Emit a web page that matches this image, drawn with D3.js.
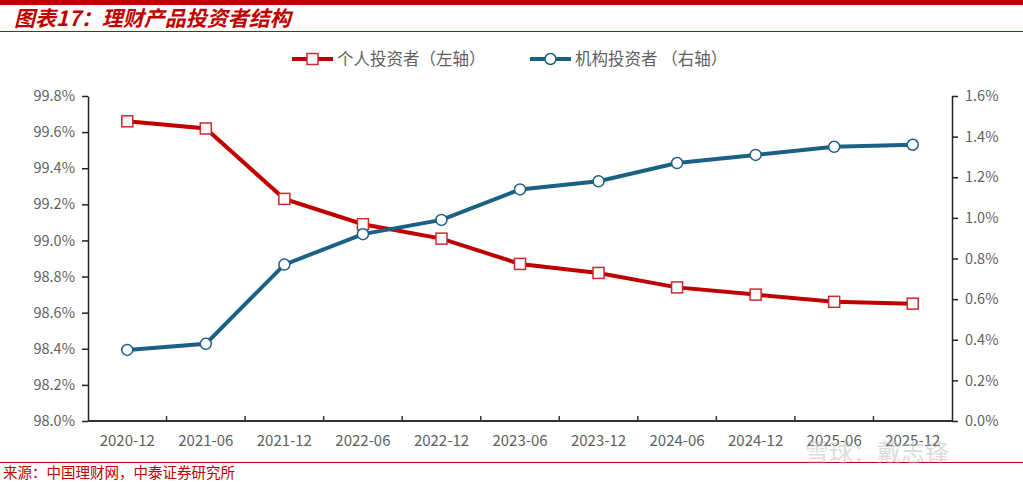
<!DOCTYPE html>
<html>
<head>
<meta charset="utf-8">
<script src="https://cdn.jsdelivr.net/npm/d3@7/dist/d3.min.js"></script>
<style>
  body { margin: 0; background: #fff; }
  text { font-family: "Noto Sans CJK SC", "DejaVu Sans", sans-serif; }
</style>
</head>
<body>
<div id="chart"></div>
<script>
var categories = ["2020-12", "2021-06", "2021-12", "2022-06", "2022-12", "2023-06",
                  "2023-12", "2024-06", "2024-12", "2025-06", "2025-12"];
// 个人投资者（左轴）, %
var personal = [99.66, 99.62, 99.23, 99.09, 99.01, 98.87, 98.82, 98.74, 98.70, 98.66, 98.65];
// 机构投资者（右轴）, %
var institution = [0.35, 0.38, 0.77, 0.92, 0.99, 1.14, 1.18, 1.27, 1.31, 1.35, 1.36];
var leftTicks = [98.0, 98.2, 98.4, 98.6, 98.8, 99.0, 99.2, 99.4, 99.6, 99.8];
var rightTicks = [0.0, 0.2, 0.4, 0.6, 0.8, 1.0, 1.2, 1.4, 1.6];

var W = 1023, H = 482;
var red = "#c00000", blue = "#1b6185", grey = "#5f5f5f";
var margin = {top: 96, right: 71, bottom: 61, left: 88};
var width = W - margin.left - margin.right,
    height = H - margin.top - margin.bottom;

var svg = d3.select("#chart").append("svg")
    .attr("width", W).attr("height", H);

// header / footer
svg.append("line").attr("x1", 0).attr("x2", W).attr("y1", 2.5).attr("y2", 2.5)
    .attr("stroke", red).attr("stroke-width", 5);
svg.append("text").attr("x", 14).attr("y", 26)
    .attr("fill", red).attr("font-size", 21).attr("font-weight", "bold")
    .attr("font-style", "italic")
    .text("图表17：理财产品投资者结构");
svg.append("line").attr("x1", 0).attr("x2", W).attr("y1", 31.5).attr("y2", 31.5)
    .attr("stroke", red).attr("stroke-width", 1);
svg.append("line").attr("x1", 0).attr("x2", W).attr("y1", 462.5).attr("y2", 462.5)
    .attr("stroke", red).attr("stroke-width", 1);
svg.append("text").attr("x", 3).attr("y", 478)
    .attr("fill", red).attr("font-size", 14.5)
    .text("来源：中国理财网，中泰证券研究所");

var g = svg.append("g")
    .attr("transform", "translate(" + margin.left + "," + margin.top + ")");

var x = d3.scaleBand().domain(categories).range([0, width]);
var yL = d3.scaleLinear().domain([98.0, 99.8]).range([height, 0]);
var yR = d3.scaleLinear().domain([0, 1.6]).range([height, 0]);

// left axis
var leftAxis = g.append("g")
    .call(d3.axisLeft(yL).tickValues(leftTicks).tickSize(6).tickSizeOuter(0)
        .tickFormat(function(d){ return d.toFixed(1) + "%"; }));
// right axis
var rightAxis = g.append("g").attr("transform", "translate(" + width + ",0)")
    .call(d3.axisRight(yR).tickValues(rightTicks).tickSize(6).tickSizeOuter(0)
        .tickFormat(function(d){ return d.toFixed(1) + "%"; }));
[leftAxis, rightAxis].forEach(function(a){
    a.select(".domain").attr("stroke", "#222").attr("stroke-width", 1.5);
    a.selectAll(".tick line").attr("stroke", "#222").attr("stroke-width", 1.5);
    a.selectAll(".tick text").attr("fill", grey).attr("font-size", 14.5)
        .attr("font-family", "'DejaVu Sans', sans-serif");
});
leftAxis.selectAll(".tick text").attr("x", -13);
rightAxis.selectAll(".tick text").attr("x", 13);

// bottom axis: ticks between categories, pointing up
var bottom = g.append("g").attr("transform", "translate(0," + height + ")");
bottom.append("line").attr("x1", 0).attr("x2", width)
    .attr("stroke", "#333").attr("stroke-width", 2);
bottom.selectAll(".sep").data(categories.slice(1)).enter().append("line")
    .attr("x1", function(d){ return x(d); }).attr("x2", function(d){ return x(d); })
    .attr("y1", 0).attr("y2", -5)
    .attr("stroke", "#333").attr("stroke-width", 1.5);
bottom.selectAll(".lab").data(categories).enter().append("text")
    .attr("x", function(d){ return x(d) + x.bandwidth() / 2; })
    .attr("y", 25)
    .attr("text-anchor", "middle")
    .attr("fill", grey).attr("font-size", 15)
    .attr("font-family", "'DejaVu Sans', sans-serif")
    .text(function(d){ return d; });

var cx = function(d, i){ return x(categories[i]) + x.bandwidth() / 2; };

// personal line
g.append("path").datum(personal)
    .attr("fill", "none").attr("stroke", red).attr("stroke-width", 4)
    .attr("d", d3.line().x(cx).y(function(d){ return yL(d); }));
// institution line
g.append("path").datum(institution)
    .attr("fill", "none").attr("stroke", blue).attr("stroke-width", 4)
    .attr("d", d3.line().x(cx).y(function(d){ return yR(d); }));

g.selectAll(".sq").data(personal).enter().append("rect")
    .attr("x", function(d, i){ return cx(d, i) - 5.5; })
    .attr("y", function(d){ return yL(d) - 5.5; })
    .attr("width", 11).attr("height", 11)
    .attr("fill", "#fff").attr("stroke", "#d0282e").attr("stroke-width", 1.5);
g.selectAll(".ci").data(institution).enter().append("circle")
    .attr("cx", cx)
    .attr("cy", function(d){ return yR(d); })
    .attr("r", 5.5)
    .attr("fill", "#fff").attr("stroke", blue).attr("stroke-width", 1.5);

// legend
var lg = svg.append("g");
lg.append("line").attr("x1", 292).attr("x2", 333).attr("y1", 59).attr("y2", 59)
    .attr("stroke", red).attr("stroke-width", 4);
lg.append("rect").attr("x", 307).attr("y", 53.5).attr("width", 11).attr("height", 11)
    .attr("fill", "#fff").attr("stroke", "#d0282e").attr("stroke-width", 1.5);
lg.append("text").attr("x", 337).attr("y", 65).attr("fill", grey).attr("font-size", 16.5)
    .text("个人投资者（左轴）");
lg.append("line").attr("x1", 530).attr("x2", 571).attr("y1", 59).attr("y2", 59)
    .attr("stroke", blue).attr("stroke-width", 4);
lg.append("circle").attr("cx", 550.5).attr("cy", 59).attr("r", 5.5)
    .attr("fill", "#fff").attr("stroke", blue).attr("stroke-width", 1.5);
lg.append("text").attr("x", 575).attr("y", 65).attr("fill", grey).attr("font-size", 16.5)
    .text("机构投资者 （右轴）");

// watermark
svg.append("text").attr("x", 805).attr("y", 461)
    .attr("fill", "#bbb").attr("opacity", 0.5).attr("font-size", 24)
    .text("雪球：戴志锋");
</script>
</body>
</html>
